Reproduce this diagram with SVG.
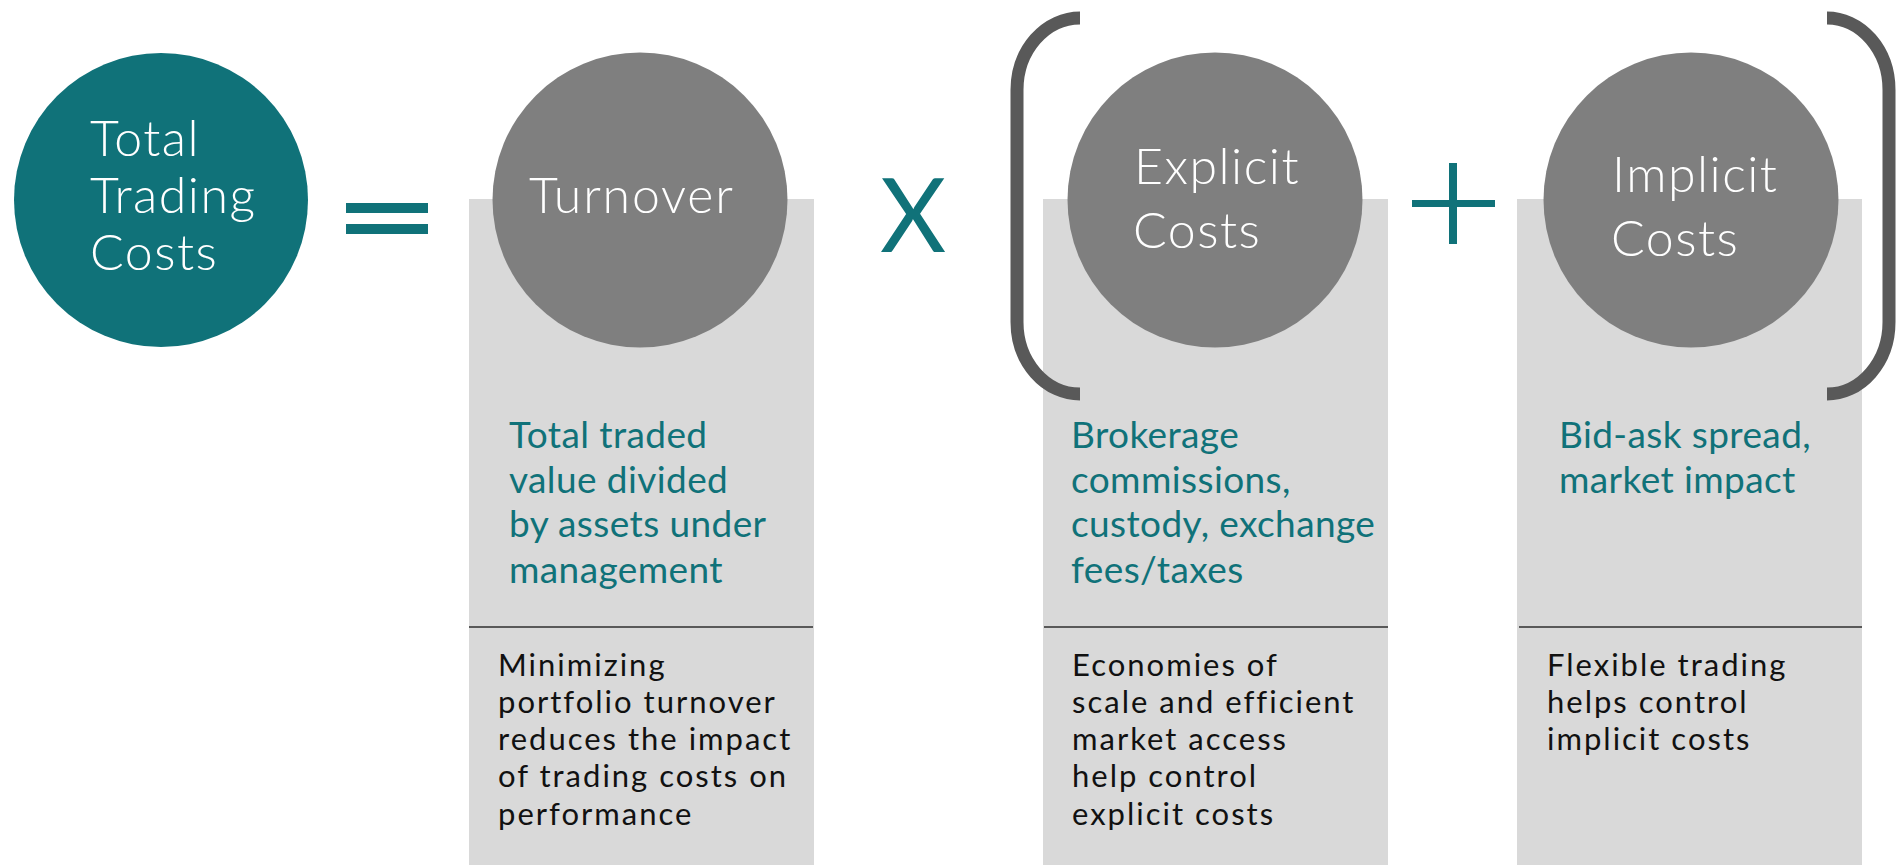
<svg xmlns="http://www.w3.org/2000/svg" width="1900" height="865" viewBox="0 0 1900 865">
<style>
.panel{fill:#d9d9d9}
.circ{fill:#7f7f7f}
.title{font-family:Lato,"Liberation Sans",sans-serif;font-size:50px;fill:#ffffff;font-weight:300;letter-spacing:1.5px}
.teal{font-family:Lato,"Liberation Sans",sans-serif;font-size:37px;fill:#107279;letter-spacing:0.4px}
.body{font-family:Lato,"Liberation Sans",sans-serif;font-size:31px;fill:#111111;letter-spacing:2px}
.div{stroke:#595959;stroke-width:2}
.brk{fill:none;stroke:#595959;stroke-width:13}
.op{fill:#107279}
</style>
<rect width="1900" height="865" fill="#ffffff"/>
<g id="total">
<circle cx="161" cy="200" r="147" fill="#107279"/>
<text class="title" x="90" y="156">Total</text>
<text class="title" x="90" y="213">Trading</text>
<text class="title" x="90" y="270">Costs</text>
</g>
<g id="equals">
<rect class="op" x="346" y="203" width="82" height="10"/>
<rect class="op" x="346" y="224" width="82" height="10"/>
</g>
<g id="turnover">
<rect class="panel" x="469" y="199" width="345" height="666"/>
<circle class="circ" cx="640" cy="200" r="147.5"/>
<text class="title" x="529" y="213" style="letter-spacing:1.8px">Turnover</text>
<line class="div" x1="469" y1="627" x2="813" y2="627"/>
<text class="teal" x="509" y="448">Total traded</text>
<text class="teal" x="509" y="493">value divided</text>
<text class="teal" x="509" y="537">by assets under</text>
<text class="teal" x="509" y="583">management</text>
<text class="body" x="498" y="676">Minimizing</text>
<text class="body" x="498" y="713">portfolio turnover</text>
<text class="body" x="498" y="750">reduces the impact</text>
<text class="body" x="498" y="787">of trading costs on</text>
<text class="body" x="498" y="825">performance</text>
</g>
<g id="times">
<text x="913" y="252" text-anchor="middle" style="font-family:Lato,'Liberation Sans',sans-serif;font-size:102px;fill:#107279;font-weight:400">X</text>
</g>
<g id="explicit">
<rect class="panel" x="1043" y="199" width="345" height="666"/>
<circle class="circ" cx="1215" cy="200" r="147.5"/>
<text class="title" x="1134" y="184">Explicit</text>
<text class="title" x="1133" y="248">Costs</text>
<line class="div" x1="1044" y1="627" x2="1388" y2="627"/>
<text class="teal" x="1071" y="448">Brokerage</text>
<text class="teal" x="1071" y="493">commissions,</text>
<text class="teal" x="1071" y="537">custody, exchange</text>
<text class="teal" x="1071" y="583">fees/taxes</text>
<text class="body" x="1072" y="676">Economies of</text>
<text class="body" x="1072" y="713">scale and efficient</text>
<text class="body" x="1072" y="750">market access</text>
<text class="body" x="1072" y="787">help control</text>
<text class="body" x="1072" y="825">explicit costs</text>
</g>
<g id="plus">
<rect class="op" x="1449" y="163" width="8" height="81"/>
<rect class="op" x="1412" y="200" width="83" height="7"/>
</g>
<g id="implicit">
<rect class="panel" x="1517" y="199" width="345" height="666"/>
<circle class="circ" cx="1691" cy="200" r="147.5"/>
<text class="title" x="1612" y="192">Implicit</text>
<text class="title" x="1611" y="256">Costs</text>
<line class="div" x1="1519" y1="627" x2="1862" y2="627"/>
<text class="teal" x="1559" y="448">Bid-ask spread,</text>
<text class="teal" x="1559" y="493">market impact</text>
<text class="body" x="1547" y="676">Flexible trading</text>
<text class="body" x="1547" y="713">helps control</text>
<text class="body" x="1547" y="750">implicit costs</text>
</g>
<g id="brackets">
<path class="brk" d="M1080,18 A63,72 0 0 0 1017,90 V322 A63,72 0 0 0 1080,394"/>
<path class="brk" d="M1827,18 A62,72 0 0 1 1889,90 V322 A62,72 0 0 1 1827,394"/>
</g>
</svg>
